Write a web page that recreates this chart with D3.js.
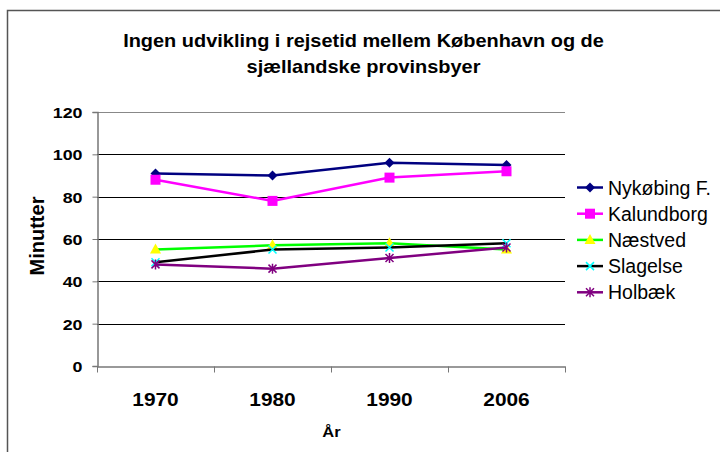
<!DOCTYPE html>
<html>
<head>
<meta charset="utf-8">
<script src="https://cdn.jsdelivr.net/npm/d3@7"></script>
<style>
  body { margin: 0; background: #fff; }
  svg { font-family: "Liberation Sans", Arial, sans-serif; }
</style>
</head>
<body>
<svg id="chart" width="720" height="452"></svg>
<script>
const years = ["1970", "1980", "1990", "2006"];
const nykobing = [91, 90, 96, 95];
const kalundborg = [88, 78, 89, 92];
const naestved = [55, 57, 58, 55];
const slagelse = [49, 55, 56, 58];
const holbaek = [48, 46, 51, 56];
const yTicks = [0, 20, 40, 60, 80, 100, 120];

const series = [
    { name: "Nykøbing F.", values: nykobing, line: "#000080", fill: "#000080", marker: "diamond" },
    { name: "Kalundborg", values: kalundborg, line: "#ff00ff", fill: "#ff00ff", marker: "square" },
    { name: "Næstved", values: naestved, line: "#00ff00", fill: "#ffff00", marker: "triangle" },
    { name: "Slagelse", values: slagelse, line: "#000000", fill: "#00ffff", marker: "x" },
    { name: "Holbæk", values: holbaek, line: "#800080", fill: "#800080", marker: "star" }
];

const svg = d3.select("#chart");
const plotLeft = 97, plotRight = 565, plotTop = 112, plotBottom = 366;

// outer frame
svg.append("rect")
    .attr("x", 7.5).attr("y", 10.5)
    .attr("width", 730).attr("height", 460)
    .attr("fill", "none").attr("stroke", "#555").attr("stroke-width", 1.5);

const x = d3.scaleBand().domain(years).range([plotLeft, plotRight]);
const y = d3.scaleLinear().domain([0, 120]).range([plotBottom, plotTop]);

// the reference text looks a bit wide, so stretch it horizontally
function wideText(parent, tx, ty, sx, size, str, anchor) {
    return parent.append("text")
        .attr("transform", `translate(${tx},${ty}) scale(${sx},1)`)
        .attr("text-anchor", anchor || "middle")
        .attr("fill", "#000")
        .attr("font-size", size).attr("font-weight", "bold")
        .text(str);
}

// gridlines
svg.append("g").selectAll("line")
    .data(yTicks.filter(d => d > 0))
    .join("line")
    .attr("x1", plotLeft).attr("x2", plotRight)
    .attr("y1", d => Math.round(y(d)) + 0.5).attr("y2", d => Math.round(y(d)) + 0.5)
    .attr("stroke", d => d === 120 ? "#888" : "#000")
    .attr("stroke-width", 1);

// y axis
const yAxis = svg.append("g")
    .attr("transform", `translate(${plotLeft + 0.5},0)`)
    .call(d3.axisLeft(y).tickValues(yTicks).tickSize(5));
yAxis.select(".domain").attr("stroke", "#777").attr("stroke-width", 1.5);
yAxis.selectAll(".tick line").attr("stroke", "#777");
yAxis.selectAll(".tick text").remove();
yAxis.selectAll(".tick").each(function(d) {
    wideText(d3.select(this), -15, 5.5, 1.15, 15.5, d, "end");
});

// x axis
const xAxis = svg.append("g")
    .attr("transform", `translate(0,${plotBottom + 0.5})`)
    .call(d3.axisBottom(x).tickSize(0));
xAxis.select(".domain").attr("stroke", "#777").attr("stroke-width", 1.5);
xAxis.selectAll(".tick text").remove();
xAxis.selectAll(".tick").each(function(d) {
    wideText(d3.select(this), 0, 39.5, 1.13, 18.5, d);
});
xAxis.selectAll(".sep")
    .data(years.map(d => x(d)).concat([plotRight]))
    .join("line")
    .attr("x1", d => Math.round(d) + 0.5).attr("x2", d => Math.round(d) + 0.5)
    .attr("y1", 0).attr("y2", 6)
    .attr("stroke", "#777");

// axis titles
wideText(svg, 331.5, 437, 1.1, 15, "År");

svg.append("text")
    .attr("transform", `translate(44,236) rotate(-90)`)
    .attr("text-anchor", "middle")
    .attr("font-size", 20).attr("font-weight", "bold")
    .text("Minutter");

// title
wideText(svg, 363.5, 47, 1.14, 17.5, "Ingen udvikling i rejsetid mellem København og de");
wideText(svg, 363.5, 73, 1.14, 17.5, "sjællandske provinsbyer");

function drawMarker(g, s, cx, cy) {
    if (s.marker === "diamond") {
        g.append("path").attr("d", `M${cx},${cy - 5}L${cx + 5},${cy}L${cx},${cy + 5}L${cx - 5},${cy}Z`)
            .attr("fill", s.fill);
    } else if (s.marker === "square") {
        g.append("rect").attr("x", cx - 5).attr("y", cy - 5).attr("width", 10).attr("height", 10)
            .attr("fill", s.fill);
    } else if (s.marker === "triangle") {
        g.append("path").attr("d", `M${cx},${cy - 6}L${cx + 5.5},${cy + 4}L${cx - 5.5},${cy + 4}Z`)
            .attr("fill", s.fill);
    } else if (s.marker === "x") {
        g.append("path").attr("d", `M${cx - 4},${cy - 4}L${cx + 4},${cy + 4}M${cx - 4},${cy + 4}L${cx + 4},${cy - 4}`)
            .attr("stroke", s.fill).attr("stroke-width", 1.5);
    } else {
        g.append("path").attr("d", `M${cx - 4},${cy - 4}L${cx + 4},${cy + 4}M${cx - 4},${cy + 4}L${cx + 4},${cy - 4}M${cx},${cy - 5}L${cx},${cy + 5}`)
            .attr("stroke", s.fill).attr("stroke-width", 1.5);
    }
}

const line = d3.line()
    .x((d, i) => x(years[i]) + x.bandwidth() / 2)
    .y(d => y(d));

series.forEach(s => {
    const g = svg.append("g");
    g.append("path")
        .datum(s.values)
        .attr("d", line)
        .attr("fill", "none")
        .attr("stroke", s.line)
        .attr("stroke-width", 2.5);
    s.values.forEach((v, i) => drawMarker(g, s, x(years[i]) + x.bandwidth() / 2, y(v)));
});

// legend
const legend = svg.selectAll(".legend")
    .data(series)
    .join("g")
    .attr("class", "legend")
    .attr("transform", (d, i) => `translate(577,${187.5 + i * 26.2})`);

legend.append("line")
    .attr("x1", 0).attr("x2", 26).attr("y1", 0).attr("y2", 0)
    .attr("stroke", d => d.line).attr("stroke-width", 2.5);
legend.each(function(d) { drawMarker(d3.select(this), d, 13, 0); });
legend.append("text")
    .attr("x", 31).attr("y", 0).attr("dy", "0.36em")
    .attr("font-size", 19.5)
    .text(d => d.name);
</script>
</body>
</html>
